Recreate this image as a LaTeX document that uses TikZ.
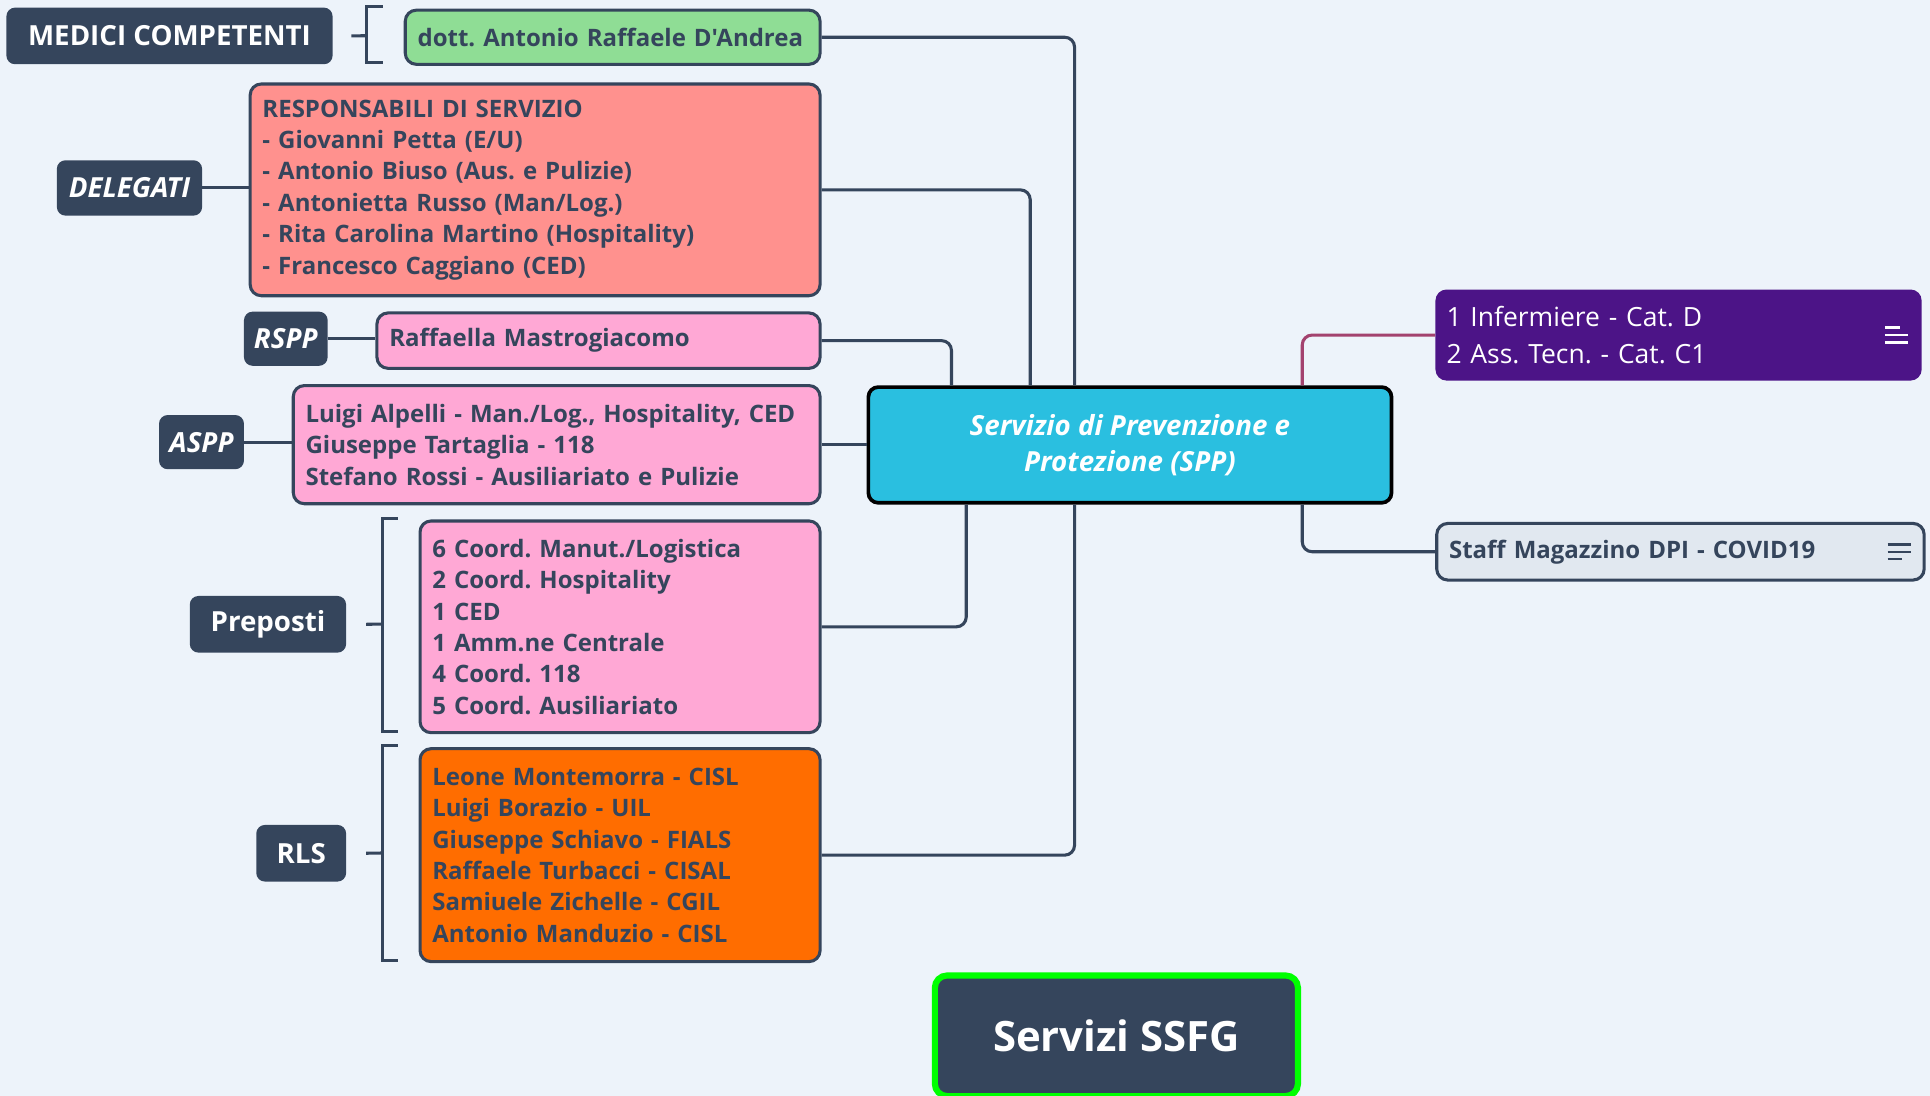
\documentclass[tikz,border=0pt]{standalone}
\usepackage{fontspec}
\setmainfont{Open Sans}[Ligatures=TeXOff]
\usetikzlibrary{calc}
\definecolor{bg}{HTML}{EDF3FA}
\definecolor{dk}{HTML}{35455C}
\definecolor{grn}{HTML}{8FDD95}
\definecolor{sal}{HTML}{FF918E}
\definecolor{pnk}{HTML}{FFA8D5}
\definecolor{org}{HTML}{FF6D00}
\definecolor{cyn}{HTML}{2ABFE0}
\definecolor{pur}{HTML}{4C1487}
\definecolor{stf}{HTML}{E1E8F0}
\definecolor{pkl}{HTML}{A3426E}
\definecolor{lime}{HTML}{00FF00}
\tikzset{
  conn/.style={draw=dk, line width=2.5pt, rounded corners=8pt},
  lab/.style={fill=dk, rounded corners=7pt, text=white, font=\fontsize{22.5}{27}\selectfont\bfseries, inner sep=0pt, anchor=north west},
  ilab/.style={lab, font=\fontsize{22.5}{27}\selectfont\bfseries\itshape},
  box/.style={draw=dk, line width=2.5pt, rounded corners=9pt, text=dk, font=\fontsize{19.5}{25.5}\selectfont\bfseries, align=left, anchor=north west, inner xsep=10pt, inner ysep=0pt},
  icon/.style={line width=2pt},
}
\begin{document}
\frenchspacing
\begin{tikzpicture}[x=1pt,y=-1pt]
\fill[bg] (0,0) rectangle (1568,890.4);
\useasboundingbox (0,0) rectangle (1568,890.4);

% left labels
\node[lab, minimum width=265pt, minimum height=46pt] (medici) at (5,6) {MEDICI COMPETENTI};
\node[ilab, minimum width=118pt, minimum height=45pt] (delegati) at (46,130) {DELEGATI};
\node[ilab, minimum width=68pt, minimum height=44pt] (rspp) at (198,253) {RSPP};
\node[ilab, minimum width=69pt, minimum height=44pt] (aspp) at (129,337) {ASPP};
\node[lab, minimum width=127pt, minimum height=46pt] (preposti) at (154,484) {Preposti};
\node[lab, minimum width=73pt, minimum height=46pt] (rls) at (208,670) {RLS};

% content boxes
\node[box, fill=grn, text width=317pt, minimum height=44pt] (dott) at (328,7) {dott. Antonio Raffaele D'Andrea};
\node[box, fill=sal, text width=443pt, minimum height=172pt] (resp) at (202,67) {RESPONSABILI DI SERVIZIO\\- Giovanni Petta (E/U)\\- Antonio Biuso (Aus. e Pulizie)\\- Antonietta Russo (Man/Log.)\\- Rita Carolina Martino (Hospitality)\\- Francesco Caggiano (CED)};
\node[box, fill=pnk, text width=340pt, minimum height=45pt] (raff) at (305,253) {Raffaella Mastrogiacomo};
\node[box, fill=pnk, text width=408pt, minimum height=96pt] (luigi) at (237,312) {Luigi Alpelli - Man./Log., Hospitality, CED\\Giuseppe Tartaglia - 118\\Stefano Rossi - Ausiliariato e Pulizie};
\node[box, fill=pnk, text width=305pt, minimum height=172pt] (prep) at (340,422) {6 Coord. Manut./Logistica\\2 Coord. Hospitality\\1 CED\\1 Amm.ne Centrale\\4 Coord. 118\\5 Coord. Ausiliariato};
\node[box, fill=org, text width=305pt, minimum height=173pt] (rlsbox) at (340,607) {Leone Montemorra - CISL\\Luigi Borazio - UIL\\Giuseppe Schiavo - FIALS\\Raffaele Turbacci - CISAL\\Samiuele Zichelle - CGIL\\Antonio Manduzio - CISL};

% central
\node[draw=black, line width=3pt, fill=cyn, rounded corners=8pt, text=white, align=center,
  font=\fontsize{22.5}{29}\selectfont\bfseries\itshape, minimum width=425pt, minimum height=94pt,
  inner sep=0pt, anchor=north west] (spp) at (704,313) {Servizio di Prevenzione e\\Protezione (SPP)};

% right
\node[fill=pur, rounded corners=9pt, text=white, align=left, font=\fontsize{21.5}{30}\selectfont,
  text width=377pt, inner xsep=9pt, inner ysep=0pt, minimum height=74pt, anchor=north west] (inf) at (1166,235) {1 Infermiere - Cat. D\\2 Ass. Tecn. - Cat. C1};
\node[box, fill=stf, text width=376pt, minimum height=46pt] (staff) at (1166,424) {Staff Magazzino DPI - COVID19};

% bottom
\node[fill=dk, draw=lime, line width=5pt, rounded corners=10pt, text=white, font=\fontsize{34}{40}\selectfont\bfseries,
  minimum width=295pt, minimum height=98pt, inner sep=0pt, anchor=north west] (ssfg) at (757,790) {Servizi SSFG};

% connectors
\draw[conn] (dott.east) -| ($(spp.north west)+(169,0)$);
\draw[conn] (resp.east) -| ($(spp.north west)+(133,0)$);
\draw[conn] (raff.east) -| ($(spp.north west)+(69,0)$);
\draw[conn] (luigi.east) -- (luigi.east -| spp.west);
\draw[conn] (prep.east) -| ($(spp.south west)+(81,0)$);
\draw[conn] (rlsbox.east) -| ($(spp.south west)+(169,0)$);
\draw[conn, draw=pkl] ($(spp.north west)+(354,0)$) |- (inf.west);
\draw[conn] ($(spp.south west)+(354,0)$) |- (staff.west);
\draw[conn] (delegati.east) -- (delegati.east -| resp.west);
\draw[conn] (rspp.east) -- (rspp.east -| raff.west);
\draw[conn] (aspp.east) -- (aspp.east -| luigi.west);

% brackets
\draw[conn, rounded corners=0pt] ([xshift=15pt]medici.east) -- (298,29);
\draw[conn, rounded corners=0pt] (311,5) -- (298,5) -- (298,51) -- (311,51);
\draw[conn, rounded corners=0pt] ([xshift=16pt]preposti.east) -- (311,507);
\draw[conn, rounded corners=0pt] (323,421) -- (311,421) -- (311,594) -- (323,594);
\draw[conn, rounded corners=0pt] ([xshift=16pt]rls.east) -- (311,693);
\draw[conn, rounded corners=0pt] (323,606) -- (311,606) -- (311,780) -- (323,780);

% icons
\draw[icon, white] ([xshift=-30pt,yshift=-6pt]inf.east) -- ++(19,0);
\draw[icon, white] ([xshift=-30pt]inf.east) -- ++(19,0);
\draw[icon, white] ([xshift=-30pt,yshift=6pt]inf.east) -- ++(12,0);
\draw[icon, dk] ([xshift=-31pt,yshift=6pt]staff.east) -- ++(19,0);
\draw[icon, dk] ([xshift=-31pt]staff.east) -- ++(19,0);
\draw[icon, dk] ([xshift=-31pt,yshift=-6pt]staff.east) -- ++(12,0);
\end{tikzpicture}
\end{document}
